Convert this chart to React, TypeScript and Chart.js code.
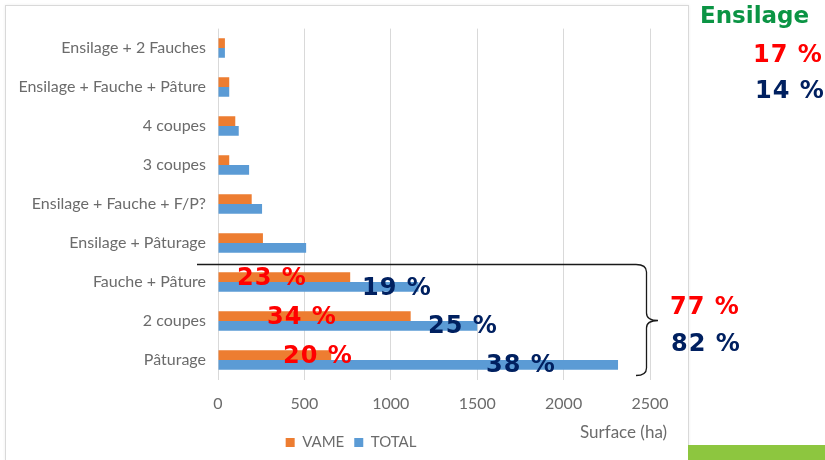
import React, { useEffect, useRef } from "react";
import { Chart, registerables } from "chart.js";

Chart.register(...registerables);

const categories = [
  "Ensilage + 2 Fauches",
  "Ensilage + Fauche + Pâture",
  "4 coupes",
  "3 coupes",
  "Ensilage + Fauche + F/P?",
  "Ensilage + Pâturage",
  "Fauche + Pâture",
  "2 coupes",
  "Pâturage",
];
const vameValues = [40, 65, 100, 65, 195, 260, 765, 1115, 655];
const totalValues = [40, 65, 120, 180, 255, 510, 1160, 1500, 2315];
const xTicks = [0, 500, 1000, 1500, 2000, 2500];

const LABEL_FONT = 'Lato, "Open Sans", sans-serif';
const BIG_FONT = '"DejaVu Sans", Verdana, sans-serif';
const RED = "#FF0000";
const NAVY = "#002060";
const GREY = "#6b6b6b";

type Ann = { text: string; left: number; top: number; color: string; size?: number };
const annotations: Ann[] = [
  { text: "Ensilage", left: 700, top: 4, color: "#0B9444", size: 23 },
  { text: "17 %", left: 753, top: 42, color: RED },
  { text: "14 %", left: 755, top: 78, color: NAVY },
  { text: "23 %", left: 237, top: 265, color: RED },
  { text: "19 %", left: 362, top: 275, color: NAVY },
  { text: "34 %", left: 267, top: 304, color: RED },
  { text: "25 %", left: 428, top: 313, color: NAVY },
  { text: "20 %", left: 283, top: 343, color: RED },
  { text: "38 %", left: 486, top: 352, color: NAVY },
  { text: "77 %", left: 670, top: 294, color: RED },
  { text: "82 %", left: 671, top: 331, color: NAVY },
];

const legendShift = {
  id: "legendShift",
  afterLayout(chart: any) {
    const lg = chart.legend;
    if (!lg) return;
    const target = chart.width / 2 + 4;
    const d = target - (lg.left + lg.right) / 2;
    lg.left += d;
    lg.right += d;
  },
};

export default function App() {
  const canvasRef = useRef<HTMLCanvasElement | null>(null);

  useEffect(() => {
    if (!canvasRef.current) return;
    const chart = new Chart(canvasRef.current, {
      type: "bar",
      data: {
        labels: categories,
        datasets: [
          {
            label: "VAME",
            data: vameValues,
            backgroundColor: "#ED7D31",
            borderWidth: 0,
            barPercentage: 1,
            categoryPercentage: 0.5,
          },
          {
            label: "TOTAL",
            data: totalValues,
            backgroundColor: "#5B9BD5",
            borderWidth: 0,
            barPercentage: 1,
            categoryPercentage: 0.5,
          },
        ],
      },
      plugins: [legendShift],
      options: {
        indexAxis: "y",
        responsive: false,
        animation: false,
        devicePixelRatio: 1,
        layout: { padding: { top: 22.6, right: 38, left: 0, bottom: 0 } },
        plugins: {
          tooltip: { enabled: false },
          legend: {
            position: "bottom",
            labels: {
              boxWidth: 9,
              boxHeight: 9,
              padding: 10,
              color: GREY,
              font: { family: LABEL_FONT, size: 15 },
            },
          },
        },
        scales: {
          x: {
            min: 0,
            max: 2500,
            afterBuildTicks: (scale: any) => {
              scale.ticks = xTicks.map((v) => ({ value: v }));
            },
            afterFit: (scale: any) => {
              scale.height = 45.5;
            },
            grid: { color: "#d9d9d9", drawTicks: false },
            border: { display: false },
            ticks: {
              color: GREY,
              padding: 15,
              font: { family: LABEL_FONT, size: 16 },
              callback: (v: any) => String(v),
            },
          },
          y: {
            afterFit: (scale: any) => {
              scale.width = 212;
            },
            grid: { display: false, drawTicks: false },
            border: { display: false },
            ticks: {
              color: GREY,
              padding: 12,
              font: { family: LABEL_FONT, size: 16 },
            },
          },
        },
      },
    });
    return () => chart.destroy();
  }, []);

  return (
    <div
      style={{
        position: "absolute",
        left: 0,
        top: 0,
        width: 825,
        height: 460,
        overflow: "hidden",
        background: "#ffffff",
      }}
    >
      <div
        style={{
          position: "absolute",
          left: 6,
          top: 6,
          width: 682,
          height: 454,
          boxShadow: "0 0 0 1px #d9d9d9, 0 0 3px 1px #eeeeee",
        }}
      >
        <canvas ref={canvasRef} width={682} height={454} style={{ width: 682, height: 454 }} />
      </div>
      <span
        style={{
          position: "absolute",
          left: 580,
          top: 422,
          color: GREY,
          fontFamily: LABEL_FONT,
          fontSize: 17,
          lineHeight: "20px",
          whiteSpace: "nowrap",
        }}
      >
        Surface (ha)
      </span>
      <div
        style={{
          position: "absolute",
          left: 688,
          top: 445,
          width: 137,
          height: 15,
          background: "#8DC63F",
        }}
      />
      <svg
        width={825}
        height={460}
        style={{ position: "absolute", left: 0, top: 0, pointerEvents: "none" }}
      >
        <path
          d="M197 264.5 L636 264.5 Q646.5 264.5 646.5 272 L646.5 313 Q646.5 320.5 658 320.5 Q646.5 320.5 646.5 328 L646.5 368 Q646.5 375.5 636 375.5"
          fill="none"
          stroke="#1a1a1a"
          strokeWidth={1.3}
        />
      </svg>
      {annotations.map((a, i) => (
        <span
          key={i}
          style={{
            position: "absolute",
            left: a.left,
            top: a.top,
            color: a.color,
            fontFamily: BIG_FONT,
            fontWeight: "bold",
            fontSize: a.size ?? 24,
            lineHeight: 1,
            letterSpacing: a.size ? 0 : 1,
            whiteSpace: "nowrap",
          }}
        >
          {a.text}
        </span>
      ))}
    </div>
  );
}
